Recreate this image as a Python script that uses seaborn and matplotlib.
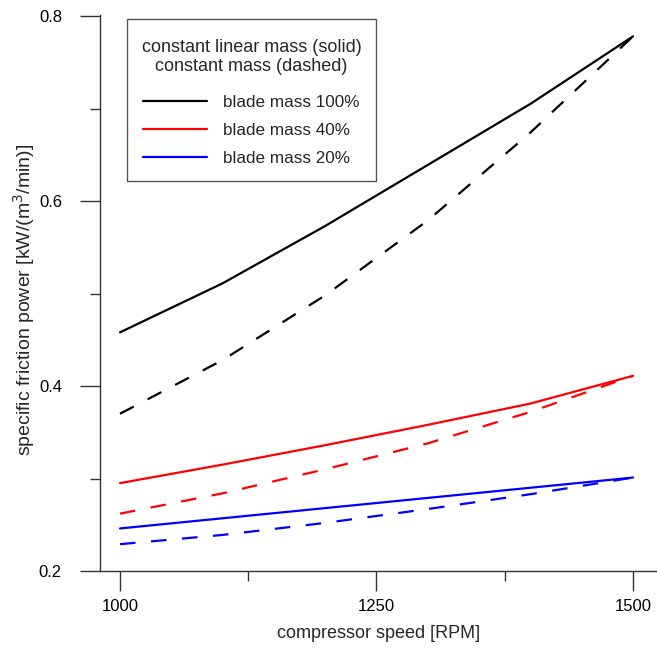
import numpy as np
import pandas as pd
import seaborn as sns
import matplotlib
matplotlib.use("Agg")
import matplotlib.pyplot as plt
from matplotlib.lines import Line2D
from matplotlib.offsetbox import DrawingArea
from matplotlib.ticker import FixedLocator

# compressor speed [RPM]
rpm = [1000, 1100, 1200, 1300, 1400, 1500]

# specific friction power [kW/(m^3/min)], constant linear mass (solid)
lin_100 = [0.458, 0.511, 0.573, 0.639, 0.705, 0.778]
lin_40 = [0.295, 0.315, 0.336, 0.358, 0.381, 0.411]
lin_20 = [0.246, 0.257, 0.268, 0.279, 0.290, 0.301]

# specific friction power, constant mass (dashed)
mass_100 = [0.370, 0.428, 0.498, 0.579, 0.674, 0.778]
mass_40 = [0.262, 0.284, 0.310, 0.338, 0.372, 0.411]
mass_20 = [0.229, 0.239, 0.252, 0.267, 0.283, 0.301]

series_labels = ["blade mass 100%", "blade mass 40%", "blade mass 20%"]
series_colors = ["black", "red", "blue"]

x_ticks = [1000, 1250, 1500]
x_minor = [1125, 1375]
y_ticks = [0.2, 0.4, 0.6, 0.8]
y_minor = [0.3, 0.5, 0.7]

rows = []
for label, lin, cm in zip(series_labels, [lin_100, lin_40, lin_20],
                          [mass_100, mass_40, mass_20]):
    for r, v in zip(rpm, lin):
        rows.append((r, v, label, "constant linear mass"))
    for r, v in zip(rpm, cm):
        rows.append((r, v, label, "constant mass"))
df = pd.DataFrame(rows, columns=["rpm", "power", "mass", "model"])

sns.set_style("white")
plt.rcParams["font.family"] = ["Liberation Sans", "DejaVu Sans"]
plt.rcParams["font.size"] = 13

W, H = 657, 658
fig = plt.figure(figsize=(W / 100, H / 100), dpi=100)
ax = fig.add_axes([100 / W, (H - 571) / H, (W - 100) / W, (571 - 15) / H])

palette = dict(zip(series_labels, series_colors))
sns.lineplot(data=df, x="rpm", y="power", hue="mass", style="model",
             palette=palette,
             dashes={"constant linear mass": "", "constant mass": (7, 7)},
             linewidth=1.6, legend=False, ax=ax, estimator=None, sort=False)

ax.set_xlim(1000 - 20 / 1.026, 1500 + 24 / 1.026)
ax.set_ylim(0.2, 0.8 + 1 / 925)

for side in ["top", "right"]:
    ax.spines[side].set_visible(False)
for side in ["left", "bottom"]:
    ax.spines[side].set_color("#333333")
    ax.spines[side].set_linewidth(1.0)

ax.xaxis.set_major_locator(FixedLocator(x_ticks))
ax.xaxis.set_minor_locator(FixedLocator(x_minor))
ax.yaxis.set_major_locator(FixedLocator(y_ticks))
ax.yaxis.set_minor_locator(FixedLocator(y_minor))
ax.set_xticklabels([str(t) for t in x_ticks])
ax.set_yticklabels([f"{t:.1f}" for t in y_ticks])
ax.tick_params(which="major", direction="out", length=14.4, width=1.0,
               color="#333333", labelsize=12, labelcolor="black")
ax.tick_params(axis="x", which="major", pad=5.5)
ax.tick_params(axis="y", which="major", pad=13)
ax.tick_params(which="minor", direction="out", length=7.2, width=1.0,
               color="#333333")
ax.tick_params(left=True, bottom=True, which="both")

ax.set_xlabel("compressor speed [RPM]", fontsize=13, labelpad=8)
ax.set_ylabel("specific friction power [kW/(m$^3$/min)]", fontsize=14)
ax.yaxis.set_label_coords((37 - 100) / (W - 100), (571 - 300) / 556)

handles = [Line2D([], [], color=c, lw=1.6) for c in series_colors]
leg = ax.legend(handles, series_labels,
                title="constant linear mass (solid)\nconstant mass (dashed)",
                loc="upper left",
                bbox_to_anchor=((127 - 100) / (W - 100), 1 - 4 / 556),
                frameon=True, fancybox=False, framealpha=1,
                edgecolor="#555555", fontsize=12.3, title_fontsize=13,
                handlelength=3.75, handletextpad=0.9, labelspacing=0.75,
                borderpad=0.85, borderaxespad=0)
leg.get_frame().set_linewidth(1.0)
leg.get_title().set_multialignment("center")
leg.get_title().set_linespacing(1.08)

# extra room above the two-line title and between title and entries
box = leg._legend_box
title_box, entries_box = box._children
box._children = [DrawingArea(0, 4.3), title_box, DrawingArea(0, 15.0),
                 entries_box]
box.sep = 0
box.set_figure(fig)

fig.savefig("out.png", dpi=100)
